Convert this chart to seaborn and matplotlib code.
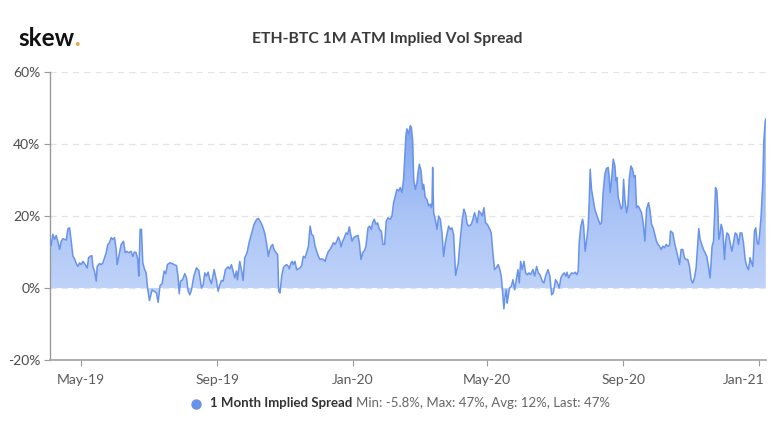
import numpy as np
import pandas as pd
import matplotlib
matplotlib.use("Agg")
import matplotlib.pyplot as plt
import matplotlib.dates as mdates
import matplotlib.transforms as mtransforms
from matplotlib.colors import LinearSegmentedColormap
from matplotlib.lines import Line2D
import seaborn as sns

# ---------------- data ----------------
base_date = "2019-05-01"
# days since 2019-05-01
days = [
    -27.7, -26.8, -25.3, -23.8, -22.3, -20.8, -19.2, -17.7, -16.2, -13.2, -11.7, -10.2, -8.7, -7.2, -5.7,
    -4.2, -2.7, -1.2, 0.3, 1.8, 3.3, 4.8, 5.7, 6.9, 8.4, 9.9, 10.8, 12.3, 13.8, 14.7, 16.8, 18.3, 19.8,
    21.3, 22.8, 24.3, 25.8, 27.3, 28.8, 30.3, 31.8, 32.7, 34.2, 36.3, 38.4, 39.9, 41.4, 43.2, 45.3, 46.8,
    48.3, 49.8, 51.3, 52.2, 53.4, 54.6, 55.8, 57.3, 58.8, 60.3, 61.8,
    64.2, 66.0, 68.1, 69.6, 71.4, 73.2, 75.0, 76.5, 78.0, 80.2, 82.3, 84.1, 86.2, 87.7, 88.6, 89.8, 91.6,
    93.7, 95.2, 96.7, 98.2, 99.7, 101.8, 104.2, 106.3, 108.7, 110.2, 111.7, 113.2, 114.7, 116.2, 117.7,
    120.1, 122.2, 123.7, 125.2, 126.7, 128.2, 130.3, 132.7, 134.2, 135.7, 137.2, 138.7, 140.2, 141.1,
    143.2, 144.7, 146.2, 147.7, 149.8, 151.6,
    154.0, 156.1, 158.5, 160.0, 161.5, 163.0, 164.5, 166.0, 167.5, 169.0, 169.9, 171.4, 172.9, 174.1,
    175.9, 177.4, 178.3, 179.5, 181.0, 182.5, 184.0, 185.5, 187.0, 187.9, 189.4, 190.6, 191.5, 193.0,
    194.5, 196.0, 197.5, 199.0, 200.5, 202.0, 203.5, 205.1, 206.6, 208.1, 209.6, 211.1, 212.6, 214.1,
    215.6, 217.1, 218.6, 220.1, 221.6, 223.1, 224.6, 226.1, 227.6, 229.1, 230.6, 232.1, 233.6, 234.5,
    236.0, 237.5, 239.0, 240.5, 242.0, 243.2, 244.4,
    245.9, 248.0, 249.8, 251.0, 252.5, 254.0, 255.8, 257.0, 258.8, 260.3, 261.8, 263.0, 264.5, 266.0,
    267.5, 269.0, 270.8, 272.3, 273.8, 275.3, 276.8, 278.9, 280.4, 281.9, 283.4, 284.9, 286.4, 287.9,
    289.4, 290.9, 291.9, 293.0, 293.9, 295.5, 297.0, 297.9, 299.1, 300.0, 301.5, 303.0, 303.9, 305.1,
    306.6, 308.1, 309.0, 310.5, 312.0, 313.5, 315.0, 315.9, 316.5, 317.1, 318.0, 319.5, 321.0, 322.5,
    324.0, 325.5, 327.0, 328.5, 330.0, 331.5, 333.0, 334.5, 336.0, 337.8,
    340.2, 341.7, 343.8, 345.3, 346.8, 348.3, 349.8, 351.9, 353.4, 354.9, 355.8, 357.3, 358.8, 360.3,
    361.8, 363.3, 364.8, 366.3, 368.7, 369.9, 371.4, 372.9, 374.4, 376.2, 377.7, 378.9, 380.1, 381.3,
    382.2, 383.4, 384.3, 385.2, 386.4, 388.0, 389.5, 391.0, 392.5, 394.0, 395.2, 396.4, 397.9, 399.4,
    400.9, 402.4, 403.9, 405.4, 407.5, 409.0, 410.8, 412.3, 413.8, 415.9, 417.4, 418.9, 421.0, 422.8,
    424.3, 425.8, 427.9,
    429.7, 431.2, 432.7, 434.2, 435.7, 437.2, 438.1, 439.6, 441.1, 442.6, 444.1, 445.6, 447.1, 448.3,
    449.2, 450.7, 452.2, 453.1, 454.6, 455.8, 457.3, 458.2, 459.1, 460.3, 461.8, 463.3, 464.8, 466.3,
    468.1, 469.3, 470.8, 472.3, 473.8, 475.3, 476.2, 477.1, 478.3, 479.9, 481.4, 482.3, 483.2, 484.4,
    485.9, 487.1, 488.3, 489.2, 490.4, 491.9, 493.1, 494.3, 495.8, 497.3, 498.8, 499.7, 500.9, 502.4,
    503.9, 505.4, 506.9, 508.4, 509.9, 511.7, 512.9, 514.4, 515.9, 517.4, 518.9,
    520.4, 521.6, 523.1, 524.6, 526.1, 527.6, 529.1, 530.6, 531.5, 533.6, 535.1, 536.6, 538.1, 539.6,
    541.1, 542.6, 544.1, 545.6, 547.1, 548.6, 550.1, 551.6, 553.1, 554.6, 556.1, 557.0, 558.2, 559.7,
    561.2, 562.7, 564.2, 565.7, 567.2, 568.1, 569.0, 570.3, 571.2, 572.1, 573.3, 574.2, 575.1, 576.3,
    577.2, 578.7, 580.2, 581.1, 582.3, 583.8, 585.3, 586.8, 588.3, 589.8, 591.3, 592.8, 594.3, 595.8,
    597.3, 598.8, 600.3, 601.8, 603.3, 604.2, 605.7, 607.2, 608.4, 609.6, 610.8, 611.7, 613.2, 614.7,
    615.6, 616.8, 617.4,
]
spread = [
    13.0, 11.8, 14.9, 13.5, 14.6, 13.0, 10.7, 13.0, 13.7, 13.3, 16.5, 16.7, 13.0, 8.8, 8.1,
    6.8, 6.0, 7.0, 6.5, 7.4, 6.8, 6.0, 5.6, 8.4, 8.8, 9.0, 6.0, 4.7, 1.9, 6.0, 6.8, 6.5, 7.0,
    8.4, 9.8, 12.1, 12.6, 14.0, 13.5, 14.0, 10.7, 6.5, 8.8, 12.1, 13.0, 9.8, 10.2, 9.8, 10.2, 8.8,
    10.0, 9.8, 7.9, 3.3, 16.3, 16.3, 7.0, 5.3, 4.2, -0.5, -3.5,
    -0.5, -0.9, -1.4, -4.0, 0.7, 1.2, 4.7, 4.0, 6.5, 7.0, 6.8, 6.5, 6.2, 2.8, -1.6, 1.9, 2.3,
    4.0, 2.8, -0.9, -1.9, -0.5, 3.3, 5.6, 4.9, 0.0, 0.9, 4.2, 3.3, 4.4, 2.3, 1.2,
    5.1, 2.1, -0.9, 0.9, 2.1, 1.9, 5.1, 5.9, 5.3, 6.5, 4.7, 2.8, 4.7, 2.3,
    7.4, 5.1, 2.1, 8.4, 9.8, 12.6,
    15.3, 17.7, 19.1, 19.3, 18.6, 17.7, 16.5, 14.9, 12.1, 8.8, 10.2, 11.6, 12.1, 10.7,
    9.8, 9.3, -0.9, -1.4, 3.3, 5.6, 6.2, 6.5, 6.0, 5.3, 7.0, 7.4, 6.5, 7.4,
    5.1, 5.3, 5.6, 6.2, 8.8, 8.4, 9.8, 11.6, 17.2, 14.9, 14.4, 11.6, 10.2, 8.8,
    7.9, 8.1, 7.9, 7.4, 9.0, 10.2, 10.7, 11.6, 12.6, 12.1, 13.0, 14.2, 13.0, 11.4,
    13.0, 14.0, 15.3, 14.9, 17.0, 14.9, 13.0,
    14.0, 14.4, 14.6, 12.6, 7.9, 9.8, 10.5, 11.6, 16.7, 17.2, 16.3, 18.1, 19.1, 17.7,
    18.1, 16.3, 15.8, 12.1, 12.1, 18.6, 19.5, 19.1, 20.0, 23.7, 25.6, 27.4, 27.0, 27.9,
    26.5, 30.2, 35.8, 42.3, 44.2, 42.8, 45.1, 44.6, 40.9, 30.2, 27.4, 29.3, 32.1, 34.4,
    32.6, 27.4, 28.8, 25.1, 24.6, 22.8, 23.3, 22.3, 23.3, 33.5, 20.9, 19.1, 16.3, 20.0,
    19.1, 15.3, 8.8, 12.6, 14.9, 17.2, 16.3, 16.7, 14.9, 3.5,
    7.0, 12.6, 19.1, 21.9, 20.5, 17.7, 17.2, 17.7, 19.1, 20.9, 20.0, 18.1, 21.4, 20.9,
    20.0, 22.3, 18.1, 17.7, 16.3, 15.3, 9.8, 5.1, 5.6, 6.5, 5.1, 3.3, -0.9, -5.8,
    -2.8, -0.5, -4.2, -2.3, 0.0, 0.5, 2.3, -0.5, 2.3, 5.1, 1.4, 7.4, 5.1, 7.4,
    4.2, 3.7, 4.2, 3.7, 5.1, 3.3, 6.0, 4.2, 3.7, 1.9, 1.4, 3.3, 5.1, 3.3,
    -1.9, -1.4, 2.3,
    1.4, 0.0, 2.8, 3.7, 4.2, 3.3, 4.4, 2.8, 3.7, 4.2, 4.0, 4.4, 3.7, 4.7,
    12.6, 17.2, 19.1, 17.7, 10.2, 13.0, 17.2, 23.7, 33.0, 27.4, 24.6, 21.9, 20.5, 19.1,
    17.7, 18.1, 26.5, 31.6, 33.2, 33.5, 31.2, 26.5, 29.8, 35.8, 33.9, 29.8, 30.7, 25.1,
    23.3, 21.9, 22.8, 30.2, 24.6, 20.9, 22.8, 30.2, 33.9, 33.0, 30.7, 31.2, 22.3, 22.8,
    21.9, 20.9, 18.1, 13.0, 21.9, 23.7, 21.9, 17.7, 16.7, 14.9, 13.0,
    12.0, 11.6, 10.7, 11.6, 11.2, 12.1, 11.6, 11.8, 15.8, 15.3, 12.6, 10.7, 8.8, 6.5,
    10.7, 10.7, 8.4, 7.9, 7.9, 6.0, 2.3, 1.4, 2.8, 5.6, 12.6, 16.5, 13.5, 12.1,
    10.7, 9.8, 8.8, 6.0, 2.8, 7.0, 11.6, 13.0, 20.0, 27.9, 27.0, 21.9, 13.5, 15.3,
    17.7, 15.8, 7.9, 12.6, 15.3, 14.9, 12.6, 10.2, 12.6, 15.3, 14.9, 12.1, 15.3, 15.3,
    12.6, 7.9, 6.0, 5.1, 8.4, 7.4, 6.0, 15.8, 16.7, 12.6, 12.1, 14.4, 20.0, 29.3,
    40.5, 46.0, 47.0,
]
tick_dates = ["2019-05-01", "2019-09-01", "2020-01-01", "2020-05-01", "2020-09-01", "2021-01-01"]
tick_labels = ["May-19", "Sep-19", "Jan-20", "May-20", "Sep-20", "Jan-21"]
y_ticks = [-20, 0, 20, 40, 60]
title = "ETH-BTC 1M ATM Implied Vol Spread"
series_name = "1 Month Implied Spread"
stats_text = "Min: -5.8%, Max: 47%, Avg: 12%, Last: 47%"

# ---------------- styling ----------------
sns.set_theme(style="white")
plt.rcParams["font.family"] = ["Lato", "DejaVu Sans"]

W, H = 775, 433
LINE = "#6993ea"

base = pd.Timestamp(base_date)
dates = base + pd.to_timedelta(np.array(days), unit="D")
df = pd.DataFrame({"date": dates, "spread": spread})

fig = plt.figure(figsize=(W / 100, H / 100), dpi=100)
ax = fig.add_axes([49.5 / W, 1 - 360 / H, 716.5 / W, 288 / H])

sns.lineplot(data=df, x="date", y="spread", ax=ax, color=LINE, linewidth=1.1, zorder=4)
poly = ax.fill_between(df["date"], df["spread"], 0, facecolor="none", edgecolor="none", zorder=2)

x0 = mdates.date2num(base + pd.Timedelta(days=-28.3))
x1 = mdates.date2num(base + pd.Timedelta(days=617.6))
cmap = LinearSegmentedColormap.from_list("grad", ["#c6d8fa", "#a9c3f6", "#7ba2ee"])
grad = np.linspace(0, 1, 256).reshape(-1, 1)
im = ax.imshow(grad, extent=[x0, x1, -6, 48], origin="lower", aspect="auto",
               cmap=cmap, zorder=2, interpolation="bilinear")
im.set_clip_path(poly.get_paths()[0], transform=ax.transData)

ax.set_xlim(x0, x1)
ax.set_ylim(-20, 60)
ax.set_yticks(y_ticks)
ax.set_yticklabels([f"{v}%" for v in y_ticks])
ax.set_xticks([mdates.date2num(pd.Timestamp(d)) for d in tick_dates])
ax.set_xticklabels(tick_labels)
ax.set_xlabel("")
ax.set_ylabel("")

ax.set_axisbelow(True)
ax.yaxis.grid(True, color="#e4e4e4", linestyle=(0, (5, 4)), linewidth=0.9)
ax.xaxis.grid(False)
for s in ["top", "right"]:
    ax.spines[s].set_visible(False)
ax.spines["left"].set_color("#9a9a9a")
ax.spines["left"].set_linewidth(1.0)
ax.spines["bottom"].set_color("#a8a8a8")
ax.spines["bottom"].set_linewidth(1.3)
ax.spines["bottom"].set_zorder(5)

ax.tick_params(axis="y", length=4.5, width=0.8, color="#9a9a9a", pad=2, labelsize=10, labelcolor="#4a4a4a", left=True)
ax.tick_params(axis="x", length=4, width=0.8, color="#9a9a9a", pad=6, labelsize=10, labelcolor="#5a5a5a", bottom=True)

# last x label is kept inside the figure (shifted left, as in the reference)
last_lbl = ax.get_xticklabels()[-1]
last_lbl.set_transform(last_lbl.get_transform() +
                       mtransforms.ScaledTranslation(-15 / 100, 0, fig.dpi_scale_trans))

# title & logo
fig.text(387.5 / W, 1 - 43.5 / H, title, ha="center", va="baseline", fontsize=11.3,
         fontweight="bold", color="#3a3a3a")
logo = fig.text(18 / W, 1 - 46.5 / H, "skew", ha="left", va="baseline", fontsize=17.5,
                fontweight="bold", color="#111111")
fig.canvas.draw()
r = fig.canvas.get_renderer()
bb = logo.get_window_extent(r)
fig.text((bb.x1 + 0.5) / W, 1 - 46.5 / H, ".", ha="left", va="baseline", fontsize=17.5,
         fontweight="bold", color="#e8a43a")

# legend
fig.add_artist(Line2D([196 / W], [1 - 403.5 / H], marker="o", markersize=6.5, color=LINE,
                      markeredgecolor=LINE, linestyle="none", transform=fig.transFigure))
t1 = fig.text(210.5 / W, 1 - 407 / H, series_name, ha="left", va="baseline", fontsize=9.5,
              fontweight="bold", color="#333333")
fig.canvas.draw()
bb1 = t1.get_window_extent(fig.canvas.get_renderer())
fig.text((bb1.x1 + 3.2) / W, 1 - 407 / H, stats_text, ha="left", va="baseline", fontsize=9.5,
         color="#666666")

fig.savefig("out.png", dpi=100)
